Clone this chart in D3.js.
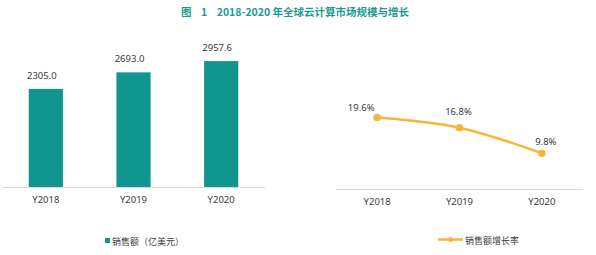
<!DOCTYPE html>
<html><head><meta charset="utf-8">
<script src="https://cdn.jsdelivr.net/npm/d3@7"></script>
<style>
html,body{margin:0;padding:0;background:#fff;}
svg{display:block;font-family:"Noto Sans","Noto Sans CJK SC",sans-serif;}
</style></head>
<body>
<svg id="c" width="596" height="255"></svg>
<script>
const title = "图\u00a0\u00a0\u00a0\u00a01\u00a0\u00a0\u00a0\u00a02018-2020 年全球云计算市场规模与增长";
const categories = ["Y2018", "Y2019", "Y2020"];
const salesValues = [2305.0, 2693.0, 2957.6];
const growthValues = [19.6, 16.8, 9.8];
const salesLegend = "销售额（亿美元）";
const growthLegend = "销售额增长率";

const svg = d3.select("#c");
const teal = "#10968f";
const orange = "#f4b73a";
const textCol = "#3a3a3a";

svg.append("text").attr("x", 295).attr("y", 16).attr("text-anchor", "middle")
  .attr("font-size", 10.5).attr("font-weight", "bold").attr("fill", "#1b9a95")
  .attr("font-family", "'Noto Sans CJK SC','Noto Sans',sans-serif").text(title);

// Bar chart
const xb = d3.scaleBand().domain(categories).range([2, 265]).paddingInner(0.61).paddingOuter(0.305);
const yb = d3.scaleLinear().domain([0, 3500]).range([187, 38]);
const gb = svg.append("g");
gb.selectAll("rect").data(salesValues).join("rect")
  .attr("x", (d, i) => xb(categories[i])).attr("width", xb.bandwidth())
  .attr("y", d => yb(d)).attr("height", d => yb(0) - yb(d)).attr("fill", teal);
gb.append("line").attr("x1", 2).attr("x2", 265).attr("y1", yb(0) + 0.5).attr("y2", yb(0) + 0.5)
  .attr("stroke", "#d9d9d9").attr("stroke-width", 1);
gb.selectAll("text.v").data(salesValues).join("text").attr("class", "v")
  .attr("x", (d, i) => xb(categories[i]) + xb.bandwidth() / 2 - 4).attr("y", d => yb(d) - 10)
  .attr("text-anchor", "middle").attr("font-size", 9.5).attr("fill", textCol)
  .text(d => d.toFixed(1));
const xAxisB = d3.axisBottom(xb).tickSize(0).tickPadding(9);
const axB = gb.append("g").attr("transform", `translate(0,${yb(0)})`).call(xAxisB);
axB.select(".domain").remove();
axB.selectAll("text").attr("font-size", 9.5).attr("fill", textCol).attr("font-family", "'Noto Sans',sans-serif");
// legend
gb.append("rect").attr("x", 105).attr("y", 238).attr("width", 5).attr("height", 5).attr("fill", teal);
gb.append("text").attr("x", 112).attr("y", 244.5).attr("font-size", 9).attr("fill", textCol)
  .attr("font-family", "'Noto Sans CJK SC',sans-serif").text(salesLegend);

// Line chart
const xl = d3.scaleBand().domain(categories).range([336, 583]);
const yl = d3.scaleLinear().domain([0, 30]).range([189, 79.5]);
const cx = c => xl(c) + xl.bandwidth() / 2;
const gl = svg.append("g");
gl.append("line").attr("x1", 336).attr("x2", 583).attr("y1", yl(0) + 0.5).attr("y2", yl(0) + 0.5)
  .attr("stroke", "#d9d9d9").attr("stroke-width", 1);
const line = d3.line().x((d, i) => cx(categories[i])).y(d => yl(d)).curve(d3.curveMonotoneX);
gl.append("path").datum(growthValues).attr("d", line).attr("fill", "none")
  .attr("stroke", orange).attr("stroke-width", 2.5);
gl.selectAll("circle").data(growthValues).join("circle")
  .attr("cx", (d, i) => cx(categories[i])).attr("cy", d => yl(d)).attr("r", 3.8).attr("fill", orange);
const labelDx = [-16, -1, 4];
const labelDy = [-6, -13, -8];
gl.selectAll("text.v").data(growthValues).join("text").attr("class", "v")
  .attr("x", (d, i) => cx(categories[i]) + labelDx[i]).attr("y", (d, i) => yl(d) + labelDy[i])
  .attr("text-anchor", "middle").attr("font-size", 9.5).attr("fill", textCol)
  .text(d => d.toFixed(1) + "%");
const axL = gl.append("g").attr("transform", `translate(0,${yl(0)})`).call(d3.axisBottom(xl).tickSize(0).tickPadding(9));
axL.select(".domain").remove();
axL.selectAll("text").attr("font-size", 9.5).attr("fill", textCol).attr("font-family", "'Noto Sans',sans-serif");
// legend
gl.append("line").attr("x1", 438).attr("x2", 463).attr("y1", 239.5).attr("y2", 239.5)
  .attr("stroke", orange).attr("stroke-width", 2.5);
gl.append("circle").attr("cx", 450.5).attr("cy", 239.5).attr("r", 2.5).attr("fill", orange);
gl.append("text").attr("x", 465).attr("y", 243.5).attr("font-size", 9).attr("fill", textCol)
  .attr("font-family", "'Noto Sans CJK SC',sans-serif").text(growthLegend);
</script>
</body></html>
